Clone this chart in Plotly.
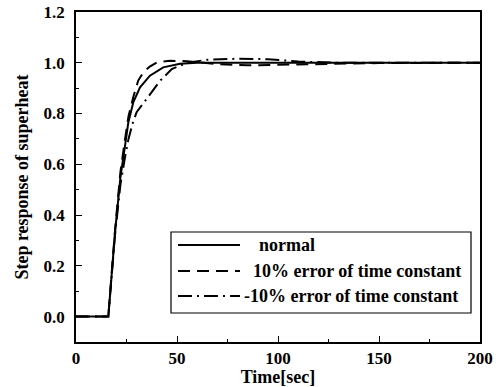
import plotly.graph_objects as go

# ---- data ----
t_normal = [0, 16, 19.3, 21, 22, 24.3, 25.9, 28.4, 31.7, 36.6, 43.2, 51.5, 60, 80, 120, 160, 200]
y_normal = [0, 0, 0.33, 0.46, 0.55, 0.675, 0.765, 0.845, 0.903, 0.949, 0.982, 0.996, 1.0, 1.0, 1.0, 1.0, 1.0]

t_plus = [0, 16, 19.3, 21, 22, 24.3, 26, 28.4, 30.8, 33.3, 36.5, 40, 46.5, 55, 70, 85, 100, 120, 150, 200]
y_plus = [0, 0, 0.34, 0.48, 0.57, 0.70, 0.79, 0.866, 0.93, 0.962, 0.985, 1.001, 1.008, 1.006, 0.995, 0.99, 0.992, 0.995, 0.999, 1.0]

t_minus = [0, 16, 19.3, 21, 22, 24.3, 26, 28, 30, 35, 41.6, 47.4, 55, 65, 80, 95, 110, 130, 200]
y_minus = [0, 0, 0.32, 0.44, 0.52, 0.63, 0.70, 0.76, 0.805, 0.858, 0.929, 0.975, 1.0, 1.012, 1.016, 1.014, 1.005, 1.0, 1.0]

names = ["normal", "10% error of time constant", "-10% error of time constant"]
x_ticks = [0, 50, 100, 150, 200]
y_ticks = [0.0, 0.2, 0.4, 0.6, 0.8, 1.0, 1.2]

FONT = "Liberation Serif, Times New Roman, serif"
styles = ["solid", "12px,7px", "14px,5px,2px,5px"]

fig = go.Figure()
for (tx, ty, nm, ds) in zip([t_normal, t_plus, t_minus], [y_normal, y_plus, y_minus], names, styles):
    fig.add_trace(go.Scatter(x=tx, y=ty, mode="lines", name=nm, showlegend=False,
                             line=dict(color="black", width=2, dash=ds)))

# manual legend (paper coords)
L, R, B, T = 76, 480, 342, 12
def px(x):
    return (x - L) / (R - L)
def py(y):
    return (B - y) / (B - T)

fig.add_shape(type="rect", xref="paper", yref="paper",
              x0=px(171), x1=px(471), y0=py(313), y1=py(232),
              line=dict(color="black", width=1.2), fillcolor="white")
rows = [245, 271, 296]
text_x = [257, 251, 242]
for nm, ds, ry, tx in zip(names, styles, rows, text_x):
    fig.add_shape(type="line", xref="paper", yref="paper",
                  x0=px(178), x1=px(240), y0=py(ry), y1=py(ry),
                  line=dict(color="black", width=2, dash=ds))
    fig.add_annotation(xref="paper", yref="paper", x=px(tx), y=py(ry),
                       text=nm, showarrow=False, xanchor="left", yanchor="middle",
                       font=dict(family=FONT, size=18, color="black", weight="bold"))

axis_common = dict(showline=True, linecolor="black", linewidth=1.5, mirror=True,
                   ticks="inside", ticklen=6, tickwidth=1.2, tickcolor="black",
                   showgrid=False, zeroline=False, automargin=False,
                   tickfont=dict(family=FONT, size=17, color="black", weight="bold"))

fig.update_xaxes(range=[0, 200], tickvals=x_ticks, ticktext=[str(v) for v in x_ticks],
                 ticklabelstandoff=0,
                 minor=dict(ticks="inside", dtick=25, ticklen=3, tickcolor="black"),
                 title=dict(text="Time[sec]", standoff=9,
                            font=dict(family=FONT, size=18, color="black", weight="bold")),
                 **axis_common)
fig.update_yaxes(range=[-0.1, 1.2], tickvals=y_ticks, ticktext=[f"{v:.1f}" for v in y_ticks],
                 ticklabelstandoff=6,
                 minor=dict(ticks="inside", dtick=0.1, ticklen=3, tickcolor="black"),
                 title=dict(text="Step response of superheat", standoff=10,
                            font=dict(family=FONT, size=18, color="black", weight="bold")),
                 **axis_common)

fig.update_layout(width=504, height=387, margin=dict(l=76, r=24, t=12, b=45),
                  plot_bgcolor="white", paper_bgcolor="white", showlegend=False)

fig.write_html("out.html", config={"displayModeBar": False},
               post_script="document.body.style.margin='0';document.body.style.overflow='hidden';")
